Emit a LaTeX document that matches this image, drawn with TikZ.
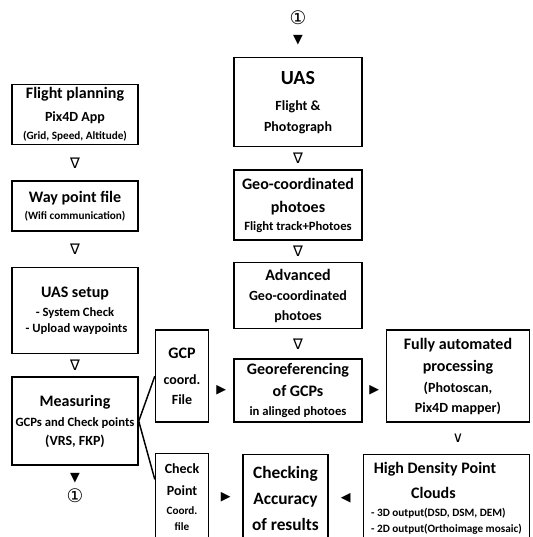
\documentclass[tikz,border=0pt]{standalone}
\usepackage{fontspec}
\setmainfont{Carlito}
\newfontfamily\symfont{DejaVu Sans}
\usetikzlibrary{positioning, calc}
\newcommand{\fxl}{\fontsize{15}{21}\selectfont}
\newcommand{\flg}{\fontsize{12}{17.5}\selectfont}
\newcommand{\fmd}{\fontsize{10.5}{15}\selectfont}
\newcommand{\fsm}{\fontsize{9.5}{13.5}\selectfont}
\newcommand{\fxs}{\fontsize{8.4}{12}\selectfont}

\begin{document}
\begin{tikzpicture}[x=0.75pt, y=-0.75pt,
        box/.style={rectangle, draw, line width=1.1pt, align=center, inner sep=1pt, font=\bfseries\fontsize{10}{12}\selectfont},
        sym/.style={inner sep=0pt, font=\symfont\fontsize{9.5}{9.5}\selectfont},
        tri/.style={sym, font=\symfont\fontsize{11}{11}\selectfont},
        circ/.style={sym, font=\symfont\fontsize{14}{14}\selectfont},
        link/.style={draw, line width=1.1pt}]

    \useasboundingbox (0,0) rectangle (533,537);

    % Columna izquierda (planificacion)
    \node [box, minimum width=94.5pt, minimum height=45pt, anchor=north] (plan) at (75,84) {{\flg Flight planning}\\[5.25pt]{\fmd Pix4D App}\\[1.5pt]{\fxs (Grid, Speed, Altitude)}};
    \node [box, minimum width=94.5pt, minimum height=37.5pt, below=26.25pt of plan] (waypt) {{\flg Way point file}\\[1pt]{\fxs (Wifi communication)}};
    \node [box, minimum width=94.5pt, minimum height=64.5pt, below=26.25pt of waypt] (setup) {{\flg UAS setup}\\[2.25pt]{\fsm - System Check}\\{\fsm \ - Upload waypoints}};
    \node [box, minimum width=94.5pt, minimum height=66pt, below=16.5pt of setup] (measure) {{\flg Measuring}\\[3pt]{\fsm GCPs and Check points}\\[2.25pt]{\fmd (VRS, FKP)}};

    % Columna central (vuelo)
    \node [box, minimum width=96pt, minimum height=66.75pt, anchor=north] (uas) at (298,57) {{\fxl UAS}\\[7.5pt]{\fmd Flight \&}\\[3.75pt]{\fmd Photograph}};
    \node [box, minimum width=96pt, minimum height=52.5pt, below=16.5pt of uas] (geophoto) {{\flg Geo-coordinated}\\[5.25pt]{\flg photoes}\\[1.5pt]{\fsm Flight track+Photoes}};
    \node [box, minimum width=96pt, minimum height=49.5pt, below=15.75pt of geophoto] (advphoto) {{\flg Advanced}\\[3pt]{\fmd Geo-coordinated}\\[3pt]{\fmd photoes}};
    \node [box, minimum width=96pt, minimum height=47.25pt, below=21.75pt of advphoto] (georef) {{\flg Georeferencing}\\[4.5pt]{\flg of GCPs}\\[2.25pt]{\fsm in alinged photoes}};

    % Procesamiento y resultados
    \node [box, minimum width=107.25pt, minimum height=69pt, right=17.25pt of georef.south east, anchor=south west] (autoproc) {{\flg Fully automated}\\[4.5pt]{\flg processing}\\[3.75pt]{\fmd (Photoscan,}\\[3pt]{\fmd Pix4D mapper)}};
    \node [box, minimum width=124.5pt, minimum height=66pt, align=left, below=23.25pt of autoproc.south east, anchor=north east] (cloud) {{\flg \hspace*{2pt}High Density Point}\\[7pt]{\flg \hspace*{30pt}Clouds}\\[1.5pt]{\fxs - 3D output(DSD, DSM, DEM)}\\{\fxs - 2D output(Orthoimage mosaic)}};
    \node [box, minimum width=63.75pt, minimum height=65.25pt, font=\bfseries\fontsize{13}{19.5}\selectfont, left=25.5pt of cloud.north west, anchor=north east] (accuracy) {Checking\\Accuracy\\of results};

    % Archivos de coordenadas
    \node [box, minimum width=39.75pt, minimum height=69pt, left=18pt of georef.south west, anchor=south east] (gcpfile) {{\flg GCP}\\[8pt]{\fmd coord.}\\[3pt]{\fmd File}};
    \node [box, minimum width=39.75pt, minimum height=65.25pt, below=22.5pt of gcpfile] (chkfile) {{\fmd Check}\\[5pt]{\fmd Point}\\[2pt]{\fxs Coord.}\\{\fxs file}};

    % Flechas entre cajas
    \node [tri] (a1) at ($(plan.south)!0.5!(waypt.north)$) {∇};
    \node [tri] (a2) at ($(waypt.south)!0.5!(setup.north)$) {∇};
    \node [tri] (a3) at ($(setup.south)!0.5!(measure.north)$) {∇};
    \node [tri] (a4) at ($(uas.south)!0.5!(geophoto.north)$) {∇};
    \node [tri] (a5) at ($(geophoto.south)!0.5!(advphoto.north)$) {∇};
    \node [tri] (a6) at ($(advphoto.south)!0.5!(georef.north)$) {∇};
    \node [sym] (a7) at ($(gcpfile.east |- georef.west)!0.5!(georef.west)$) {▶};
    \node [sym] (a8) at ($(georef.east)!0.5!(autoproc.west |- georef.east)$) {▶};
    \node [tri] (a9) at ($(autoproc.south)!0.5!(autoproc.south |- cloud.north)$) {∨};
    \node [sym] (a10) at ($(cloud.west)!0.5!(accuracy.east)$) {◀};
    \node [sym] (a11) at ($(chkfile.east)!0.5!(accuracy.west)$) {▶};

    % Enlace (1)
    \node [sym] (down1) at ($(measure.south)+(0,12)$) {▼};
    \node [circ] (mark1) at ($(measure.south)+(0,30)$) {①};
    \node [sym] (down2) at ($(uas.north)+(0,-17)$) {▼};
    \node [circ] (mark2) at ($(uas.north)+(0,-39)$) {①};

    \path [link] (measure.east) -- (gcpfile.west);
    \path [link] (measure.east) -- ($(chkfile.north west)!0.3!(chkfile.south west)$);
\end{tikzpicture}
\end{document}
